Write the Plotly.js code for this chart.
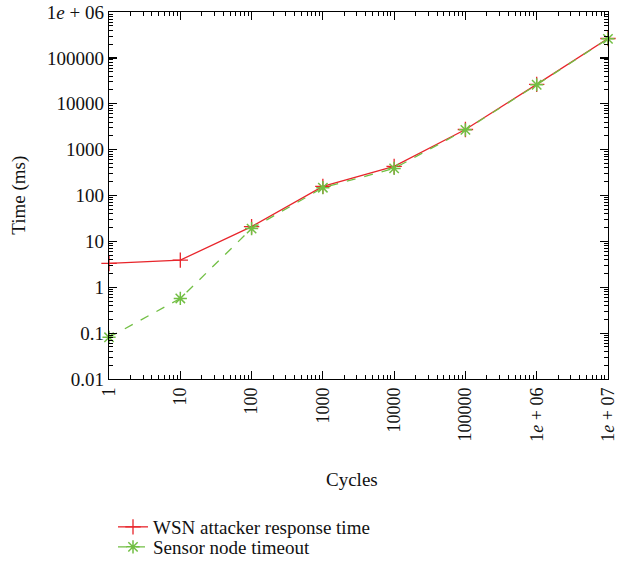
<!DOCTYPE html>
<html>
<head>
<meta charset="utf-8">
<script src="https://cdn.plot.ly/plotly-3.0.1.min.js"></script>
<style>html,body{margin:0;padding:0;background:#fff;}#chart{width:617px;height:567px;}</style>
</head>
<body>
<div id="chart"></div>
<script>
const cycles = [1, 10, 100, 1000, 10000, 100000, 1000000, 10000000];
const attackerResponse = [3.3, 3.9, 21, 158, 430, 2750, 26500, 265000];
const sensorTimeout = [0.081, 0.57, 19, 148, 390, 2700, 26000, 260000];
const xTickVals = [1, 10, 100, 1000, 10000, 100000, 1000000, 10000000];
const xTickText = ["1", "10", "100", "1000", "10000", "100000", "1<i>e</i> + 06", "1<i>e</i> + 07"];
const yTickVals = [0.01, 0.1, 1, 10, 100, 1000, 10000, 100000, 1000000];
const yTickText = ["0.01", "0.1", "1", "10", "100", "1000", "10000", "100000", "1<i>e</i> + 06"];
const xTitle = "Cycles";
const yTitle = "Time (ms)";

const FONT = "Liberation Serif, Times New Roman, serif";
const red = "#e8252b";
const green = "#72bf44";

const traces = [
  {
    x: cycles, y: attackerResponse, name: "WSN attacker response time",
    mode: "lines+markers", type: "scatter", legend: "legend", cliponaxis: false,
    line: {color: red, width: 1.3},
    marker: {symbol: "cross-thin-open", size: 11, color: red, line: {color: red, width: 1.3}}
  },
  {
    x: cycles, y: sensorTimeout, name: "Sensor node timeout",
    mode: "lines+markers", type: "scatter", legend: "legend2", cliponaxis: false,
    line: {color: green, width: 1.3, dash: "dash"},
    marker: {symbol: "asterisk-open", size: 11, color: green, line: {color: green, width: 1.5}}
  }
];

const axisCommon = {
  type: "log", showgrid: false, zeroline: false, automargin: false,
  showline: true, linecolor: "#000", linewidth: 1.3, mirror: "ticks",
  ticks: "inside", ticklen: 8, tickwidth: 1.2, tickcolor: "#000",
  ticklabeloverflow: "allow",
  tickfont: {family: FONT, size: 19, color: "#111"},
  minor: {ticks: "inside", ticklen: 4, tickwidth: 1, tickcolor: "#000", dtick: "D1", showgrid: false}
};

const legendCommon = {
  xref: "container", yref: "container", xanchor: "left", yanchor: "middle",
  font: {family: FONT, size: 19, color: "#111"}, bgcolor: "rgba(0,0,0,0)"
};

const layout = {
  width: 617, height: 567,
  margin: {l: 109, r: 9, t: 12, b: 188, autoexpand: false},
  paper_bgcolor: "#fff", plot_bgcolor: "#fff",
  font: {family: FONT, size: 19, color: "#111"},
  showlegend: true,
  legend: Object.assign({}, legendCommon, {x: 113 / 617, y: 1 - 527 / 567}),
  legend2: Object.assign({}, legendCommon, {x: 113 / 617, y: 1 - 547 / 567}),
  xaxis: Object.assign({}, axisCommon, {
    range: [-0.0005, 7.0005], tickmode: "array", tickvals: xTickVals, ticktext: xTickText, tickangle: -90,
    tickfont: {family: FONT, size: 18, color: "#111"}
  }),
  yaxis: Object.assign({}, axisCommon, {
    range: [-2, 6.0005], tickmode: "array", tickvals: yTickVals, ticktext: yTickText
  }),
  annotations: [
    {text: xTitle, xref: "paper", yref: "paper", x: 0.487, y: -0.275, xanchor: "center", yanchor: "middle",
     showarrow: false, font: {family: FONT, size: 19, color: "#111"}},
    {text: yTitle, xref: "paper", yref: "paper", x: -0.182, y: 0.5, xanchor: "center", yanchor: "middle",
     textangle: -90, showarrow: false, font: {family: FONT, size: 19, color: "#111"}}
  ]
};

Plotly.newPlot("chart", traces, layout, {displayModeBar: false, staticPlot: true});
</script>
</body>
</html>
